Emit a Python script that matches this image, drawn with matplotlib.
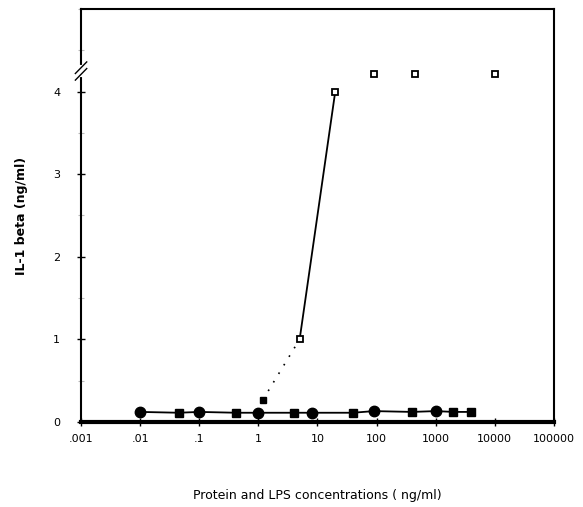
import numpy as np
import matplotlib
matplotlib.use('Agg')
import matplotlib.pyplot as plt
import matplotlib.ticker as ticker

# protein series (near baseline)
circ_x = [0.01, 0.1, 1, 8, 90, 1000]
circ_y = [0.12, 0.12, 0.11, 0.11, 0.13, 0.13]
sq_x = [0.045, 0.42, 4, 40, 400, 2000, 4000]
sq_y = [0.11, 0.11, 0.11, 0.11, 0.12, 0.12, 0.12]

# LPS series
lps_x = [1.2, 5, 20]
lps_y = [0.27, 1.0, 4.0]
sat_x = [90, 450, 10000]
sat_y = [4.22, 4.22, 4.22]

xticks = [0.001, 0.01, 0.1, 1, 10, 100, 1000, 10000, 100000]
xticklabels = ['.001', '.01', '.1', '1', '10', '100', '1000', '10000', '100000']

fig = plt.figure(figsize=(5.83, 5.07), dpi=100)
ax = fig.add_axes([0.139, 0.168, 0.811, 0.814])

# baseline line through both protein series
bx = np.array(circ_x + sq_x)
by = np.array(circ_y + sq_y)
order = np.argsort(bx)
ax.plot(bx[order], by[order], color='black', lw=1.3, zorder=2)
ax.plot(sq_x, sq_y, 's', color='black', ms=5.5, zorder=3)
ax.plot(circ_x, circ_y, 'o', color='black', ms=7.5, zorder=3)

# LPS: dotted then solid
ax.plot(lps_x[:2], lps_y[:2], color='black', lw=1.2, ls=(0, (1, 5)), zorder=2)
ax.plot(lps_x[1:], lps_y[1:], color='black', lw=1.3, zorder=2)
ax.plot(lps_x[:1], lps_y[:1], 's', color='black', ms=5, zorder=3)
ax.plot(lps_x[1:], lps_y[1:], 's', mfc='white', mec='black', mew=1.3, ms=5, zorder=3)
ax.plot(sat_x, sat_y, 's', mfc='white', mec='black', mew=1.3, ms=5, zorder=3,
        ls='none')

ax.set_xscale('log')
ax.set_xlim(0.001, 100000)
ax.set_ylim(0, 5)
ax.set_xticks(xticks)
ax.set_xticklabels(xticklabels)
ax.xaxis.set_minor_locator(ticker.NullLocator())
ax.set_yticks([0, 1, 2, 3, 4])
ax.yaxis.set_minor_locator(ticker.MultipleLocator(0.5))

ax.tick_params(axis='both', which='major', direction='inout', length=6,
               width=1, labelsize=8, pad=6)
ax.tick_params(axis='y', which='major', pad=12)
ax.tick_params(axis='y', which='minor', direction='inout', length=4,
               width=0.8, color='#bbbbbb')

for s in ['left', 'right', 'top']:
    ax.spines[s].set_linewidth(1.5)
ax.spines['bottom'].set_linewidth(3)

# axis break on the y axis
bk = 4.25
ax.plot([0, 0], [bk - 0.05, bk + 0.05], transform=ax.get_yaxis_transform(),
        color='white', lw=3, clip_on=False, zorder=5)
for d in (-0.04, 0.04):
    ax.plot([-0.012, 0.012], [bk + d - 0.07, bk + d + 0.07],
            transform=ax.get_yaxis_transform(), color='black', lw=1,
            clip_on=False, zorder=6)

ax.set_ylabel('IL-1 beta (ng/ml)', fontsize=9, fontweight='bold', labelpad=18)
ax.set_xlabel('Protein and LPS concentrations ( ng/ml)', fontsize=9,
              labelpad=32)

fig.savefig('out.png', dpi=100)
